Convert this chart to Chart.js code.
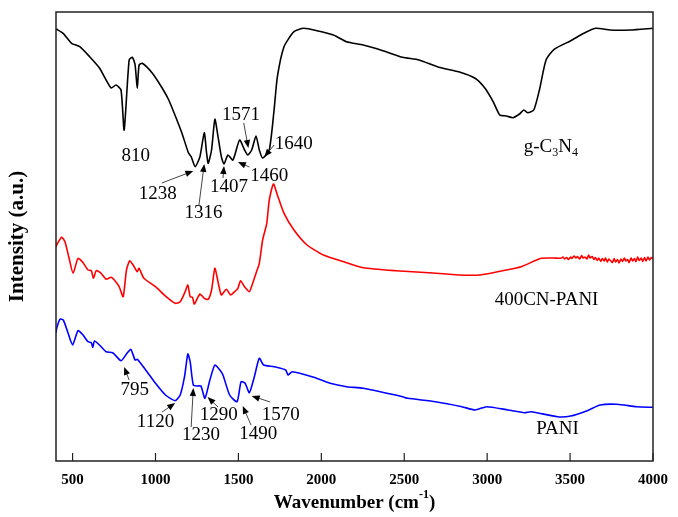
<!DOCTYPE html>
<html>
<head>
<meta charset="utf-8">
<script src="https://cdn.jsdelivr.net/npm/chart.js@4.4.0/dist/chart.umd.min.js"></script>
<style>
  body { margin: 0; background: #fff; }
  canvas { display: block; }
</style>
</head>
<body>
<canvas id="ftir" width="678" height="517"></canvas>
<script>
// FTIR spectra (intensity in arbitrary units)

const xTicks = [500, 1000, 1500, 2000, 2500, 3000, 3500, 4000];

// g-C3N4 (black)
const gcnWavenumber = [400, 404, 443, 494, 543, 603, 662, 732, 762, 792, 811, 841, 861, 877, 890, 901, 920, 980, 1040, 1080,
  1129, 1159, 1199, 1215, 1239, 1268, 1294, 1308, 1318, 1338, 1358, 1377, 1397, 1413, 1437, 1467, 1507, 1537, 1556, 1580,
  1606, 1626, 1646, 1686, 1715, 1735, 1775, 1835, 1894, 1974, 2073, 2152, 2252, 2371, 2490, 2589, 2708, 2828, 2927, 2987,
  3036, 3076, 3116, 3155, 3195, 3221, 3245, 3281, 3315, 3355, 3404, 3504, 3583, 3653, 3742, 3861, 4000];
const gcnIntensity = [432, 431.7, 427.7, 417.7, 414.3, 404.3, 393, 373, 376, 371, 331, 401, 403.7, 396, 372.7, 396, 397.7, 388, 373, 361,
  341, 328, 308, 304.3, 294.3, 304.3, 328.3, 308, 297.7, 311, 341.7, 324.3, 304.3, 297, 306, 301, 321, 311, 306, 311,
  325, 311, 303, 311, 351, 384.3, 414.3, 429.3, 432.7, 430.3, 426, 419.3, 416, 410.3, 403.7, 401, 393.7, 389.3, 382.7, 372.7,
  359.3, 346, 345, 343.3, 347, 351, 348.3, 351, 371, 401, 411.7, 420.3, 427.7, 432.7, 431, 431, 432.7];

// 400CN-PANI (red)
const cnPaniWavenumber = [400, 404, 434, 454, 479, 503, 533, 563, 593, 613, 626, 643, 672, 702, 732, 752, 781, 805, 825, 845,
  871, 890, 901, 930, 1000, 1060, 1119, 1149, 1179, 1195, 1209, 1223, 1234, 1268, 1294, 1318, 1338, 1358, 1377, 1397,
  1427, 1453, 1477, 1497, 1513, 1537, 1566, 1586, 1606, 1626, 1646, 1671, 1686, 1711, 1735, 1775, 1835, 1914, 2013, 2152,
  2252, 2450, 2649, 2828, 2957, 3086, 3205, 3325, 3400, 3444, 3458, 3466, 3479, 3490, 3503, 3511, 3524, 3536, 3545, 3558,
  3570, 3578, 3590, 3601, 3612, 3621, 3633, 3644, 3652, 3664, 3673, 3685, 3694, 3706, 3713, 3725, 3734, 3746, 3755, 3766,
  3774, 3786, 3795, 3807, 3816, 3828, 3836, 3847, 3856, 3868, 3877, 3888, 3897, 3908, 3917, 3929, 3938, 3949, 3958, 3970,
  3979, 3990, 4000];
const cnPaniIntensity = [214, 216, 223.7, 219.3, 202.7, 187.7, 202.7, 198.3, 191, 190.3, 182.7, 190.3, 187.7, 181.7, 183.7, 181, 174.3, 164.3, 191, 200.3,
  194.3, 189.3, 192.7, 182.7, 174.3, 165, 157.7, 159.3, 169.3, 176, 164.3, 163.7, 157, 167, 162.7, 161.7, 171, 192.7, 179.3, 166,
  171.7, 166, 169.3, 172.7, 180.3, 174.3, 169.3, 177.7, 187.7, 197.7, 221, 237.7, 261, 277, 266, 247.7, 231, 216, 206, 198.3,
  193.3, 190.3, 188.3, 186, 186, 190, 194.3, 202.7, 203, 202.7, 204, 202, 203.5, 201.5, 204, 202.5, 205, 203, 204.5, 202,
  205.5, 203, 204, 202, 206, 203, 204.5, 201.5, 203.5, 200.5, 203, 199.5, 202.5, 200, 203, 199, 202, 200, 198.5, 202.5,
  199, 201.5, 198, 202, 199.5, 203, 200, 201.5, 198.5, 203, 200, 202.5, 199.5, 204, 200.5, 203, 199.5, 203.5, 200, 204,
  201, 203.5, 202];

// PANI (blue)
const paniWavenumber = [400, 404, 424, 444, 473, 500, 533, 563, 593, 613, 622, 632, 662, 702, 742, 792, 825, 851, 877, 891,
  941, 1000, 1060, 1119, 1149, 1175, 1195, 1209, 1228, 1254, 1274, 1298, 1328, 1358, 1388, 1407, 1447, 1492, 1516, 1540,
  1566, 1596, 1626, 1652, 1715, 1785, 1799, 1824, 1954, 2053, 2152, 2252, 2490, 2520, 2689, 2848, 2927, 2997, 3126, 3225,
  3265, 3424, 3504, 3603, 3682, 3782, 3901, 4000];
const paniIntensity = [128, 132.7, 141.7, 141, 127.7, 116, 130.3, 126, 119.3, 118.3, 113.7, 120, 116, 109.3, 108.3, 100.3, 107, 111.7, 101, 101.7,
  91, 77.7, 66, 60.3, 66, 84.3, 107, 99.3, 76, 75, 75, 62.7, 81, 96, 91, 86, 66, 59.3, 79.3, 77.7,
  68.3, 84.3, 102.7, 96, 94.3, 91, 86, 89.3, 83.7, 77.7, 74.3, 72.7, 64.3, 62.7, 59.3, 54.3, 51, 54.3, 51, 48.3,
  49.3, 44.3, 45, 50.3, 56, 56.7, 54.3, 53.7];

// peak labels: text anchor and arrow (from -> to), in data units
const peakNotes = [
  { text: '810',  at: [881, 305] },
  { text: '1238', at: [1014, 267], from: [1038, 278], to: [1228, 290] },
  { text: '1316', at: [1290, 248], from: [1262, 256], to: [1294, 297] },
  { text: '1407', at: [1443, 274], from: [1407, 283], to: [1413, 295] },
  { text: '1460', at: [1686, 285], from: [1566, 294], to: [1497, 299] },
  { text: '1571', at: [1516, 346], from: [1532, 338], to: [1560, 313] },
  { text: '1640', at: [1834, 317], from: [1715, 316], to: [1656, 304] },
  { text: '795',  at: [875, 71],   from: [841, 81],   to: [811, 94] },
  { text: '1120', at: [1000, 39],  from: [1040, 49],  to: [1119, 58] },
  { text: '1230', at: [1274, 26],  from: [1215, 34],  to: [1228, 73] },
  { text: '1290', at: [1382, 46],  from: [1377, 54],  to: [1314, 64] },
  { text: '1490', at: [1620, 27],  from: [1576, 36],  to: [1526, 55] },
  { text: '1570', at: [1755, 46],  from: [1692, 59],  to: [1580, 65] }
];
const seriesNotes = [
  { parts: [['g-C', 0], ['3', 1], ['N', 0], ['4', 1]], at: [3384, 314] },
  { parts: [['400CN-PANI', 0]], at: [3358, 161] },
  { parts: [['PANI', 0]], at: [3424, 32] }
];

const serif = '"Liberation Serif", "Times New Roman", serif';

const toPoints = (xs, ys) => xs.map((x, i) => ({ x: x, y: ys[i] }));

function drawArrow(ctx, x1, y1, x2, y2) {
    const ang = Math.atan2(y2 - y1, x2 - x1);
    const len = 8, hw = 3.2;
    ctx.strokeStyle = '#444';
    ctx.lineWidth = 1;
    ctx.beginPath();
    ctx.moveTo(x1, y1);
    ctx.lineTo(x2 - Math.cos(ang) * len * 0.8, y2 - Math.sin(ang) * len * 0.8);
    ctx.stroke();
    ctx.fillStyle = '#000';
    ctx.beginPath();
    ctx.moveTo(x2, y2);
    ctx.lineTo(x2 - Math.cos(ang) * len - Math.sin(ang) * hw, y2 - Math.sin(ang) * len + Math.cos(ang) * hw);
    ctx.lineTo(x2 - Math.cos(ang) * len + Math.sin(ang) * hw, y2 - Math.sin(ang) * len - Math.cos(ang) * hw);
    ctx.closePath();
    ctx.fill();
}

const decorPlugin = {
    id: 'decor',
    afterDraw(chart) {
        const ctx = chart.ctx;
        const a = chart.chartArea;
        const xs = chart.scales.x, ys = chart.scales.y;
        ctx.save();

        // frame
        ctx.strokeStyle = '#222';
        ctx.lineWidth = 1.5;
        ctx.strokeRect(a.left, a.top, a.right - a.left, a.bottom - a.top);

        // inward tick marks
        ctx.lineWidth = 1.2;
        xTicks.forEach(v => {
            const px = xs.getPixelForValue(v);
            ctx.beginPath();
            ctx.moveTo(px, a.bottom);
            ctx.lineTo(px, a.bottom - 8);
            ctx.stroke();
        });

        // peak annotations
        ctx.font = '19px ' + serif;
        ctx.textAlign = 'center';
        ctx.textBaseline = 'middle';
        peakNotes.forEach(n => {
            ctx.fillStyle = '#000';
            ctx.fillText(n.text, xs.getPixelForValue(n.at[0]), ys.getPixelForValue(n.at[1]));
            if (n.from) {
                drawArrow(ctx,
                    xs.getPixelForValue(n.from[0]), ys.getPixelForValue(n.from[1]),
                    xs.getPixelForValue(n.to[0]), ys.getPixelForValue(n.to[1]));
            }
        });

        // series names (with subscripts)
        ctx.textAlign = 'left';
        ctx.fillStyle = '#000';
        seriesNotes.forEach(n => {
            const sizes = n.parts.map(p => p[1] ? 12 : 19);
            let total = 0;
            n.parts.forEach((p, i) => { ctx.font = sizes[i] + 'px ' + serif; total += ctx.measureText(p[0]).width; });
            let x = xs.getPixelForValue(n.at[0]) - total / 2;
            const y = ys.getPixelForValue(n.at[1]);
            n.parts.forEach((p, i) => {
                ctx.font = sizes[i] + 'px ' + serif;
                ctx.fillText(p[0], x, p[1] ? y + 6 : y);
                x += ctx.measureText(p[0]).width;
            });
        });

        // x axis title with superscript
        const tParts = [['Wavenumber (cm', 0], ['-1', 1], [')', 0]];
        let tw = 0;
        tParts.forEach(p => { ctx.font = (p[1] ? 'bold 12px ' : 'bold 19px ') + serif; tw += ctx.measureText(p[0]).width; });
        let tx = (a.left + a.right) / 2 - tw / 2;
        const ty = 503;
        tParts.forEach(p => {
            ctx.font = (p[1] ? 'bold 12px ' : 'bold 19px ') + serif;
            ctx.fillText(p[0], tx, p[1] ? ty - 8 : ty);
            tx += ctx.measureText(p[0]).width;
        });

        ctx.restore();
    }
};

const lineStyle = (color) => ({
    borderColor: color,
    borderWidth: 1.6,
    pointRadius: 0,
    tension: 0.2,
    fill: false
});

new Chart(document.getElementById('ftir').getContext('2d'), {
    type: 'line',
    data: {
        datasets: [
            Object.assign({ label: 'g-C3N4', data: toPoints(gcnWavenumber, gcnIntensity) }, lineStyle('#000000')),
            Object.assign({ label: '400CN-PANI', data: toPoints(cnPaniWavenumber, cnPaniIntensity) }, lineStyle('#ff0000')),
            Object.assign({ label: 'PANI', data: toPoints(paniWavenumber, paniIntensity) }, lineStyle('#0000ff'))
        ]
    },
    options: {
        responsive: false,
        animation: false,
        layout: { padding: { top: 12, right: 18, left: 0, bottom: 0 } },
        plugins: { legend: { display: false }, tooltip: { enabled: false } },
        scales: {
            x: {
                type: 'linear',
                min: 400,
                max: 4000,
                grid: { display: false, drawTicks: false },
                border: { display: false },
                afterBuildTicks: s => { s.ticks = xTicks.map(v => ({ value: v })); },
                ticks: {
                    color: '#000',
                    font: { family: serif, size: 15, weight: 'bold' },
                    padding: 10,
                    maxRotation: 0,
                    autoSkip: false,
                    callback: v => String(v)
                },
                afterFit: s => { s.height = 56; }
            },
            y: {
                min: 0,
                max: 449,
                grid: { display: false, drawTicks: false },
                border: { display: false },
                ticks: { display: false },
                title: { display: true, text: 'Intensity (a.u.)', color: '#000', font: { family: serif, size: 21, weight: 'bold' }, padding: { top: 5, bottom: 0 } },
                afterFit: s => { s.width = 56; }
            }
        }
    },
    plugins: [decorPlugin]
});
</script>
</body>
</html>
